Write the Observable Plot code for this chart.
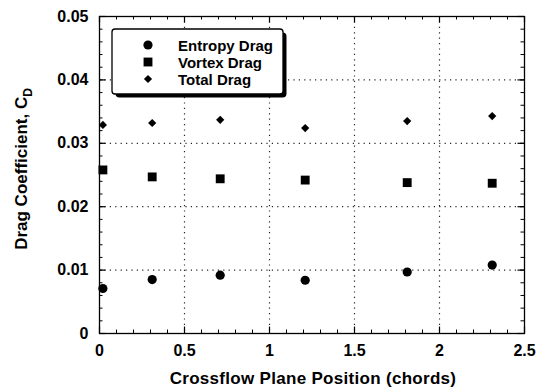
<!DOCTYPE html>
<html>
<head>
<meta charset="utf-8">
<script src="https://cdn.jsdelivr.net/npm/d3@7"></script>
<script src="https://cdn.jsdelivr.net/npm/@observablehq/plot@0.6"></script>
<style>
  html, body { margin: 0; padding: 0; background: #fff; }
  #chart { position: relative; width: 537px; height: 388px; }
  svg { font-family: "Liberation Sans", Arial, sans-serif; }
</style>
</head>
<body>
<div id="chart"></div>
<script>
// ---- data ----
const xPos    = [0.02, 0.31, 0.71, 1.21, 1.81, 2.31];
const entropy = [0.0071, 0.0085, 0.0092, 0.0084, 0.0097, 0.0108];
const vortex  = [0.0258, 0.0247, 0.0244, 0.0242, 0.0238, 0.0237];
const total   = [0.0329, 0.0332, 0.0337, 0.0324, 0.0335, 0.0343];
const seriesNames = ["Entropy Drag", "Vortex Drag", "Total Drag"];
const xTicks = [0, 0.5, 1, 1.5, 2, 2.5];
const yTicks = [0, 0.01, 0.02, 0.03, 0.04, 0.05];
const xGrid = [0.5, 1, 1.5, 2];
const yGrid = [0.01, 0.02, 0.03, 0.04];
const xTitle = "Crossflow Plane Position (chords)";
const yTitle = "Drag Coefficient, C";
const ySub = "D";

// ---- layout ----
const W = 537, H = 388;
const mL = 99, mR = 13, mT = 16, mB = 55;
const pW = W - mL - mR, pH = H - mT - mB;
const xMinor = d3.range(0, 26).map(i => i / 10);
const yMinor = d3.range(0, 26).map(i => i * 0.002);

const rows = xPos.map((x, i) => ({x, entropy: entropy[i], vortex: vortex[i], total: total[i]}));
const symbols = ["circle", "square", "diamond2"];
const radii = [4.6, 5.0, 3.7];

const plot = Plot.plot({
  width: W, height: H,
  marginLeft: mL, marginRight: mR, marginTop: mT, marginBottom: mB,
  x: {domain: [0, 2.5]},
  y: {domain: [0, 0.05]},
  style: {fontFamily: "Liberation Sans, Arial, sans-serif", background: "white"},
  marks: [
    Plot.gridX(xGrid, {stroke: "#000", strokeOpacity: 0.85, strokeWidth: 1.2, strokeDasharray: "1.2,4.2"}),
    Plot.gridY(yGrid, {stroke: "#000", strokeOpacity: 0.85, strokeWidth: 1.2, strokeDasharray: "1.2,4.2"}),
    // inward ticks on all four sides
    Plot.tickX(xMinor, {x: d => d, insetTop: pH - 3.5, stroke: "#000", strokeWidth: 1}),
    Plot.tickX(xTicks, {x: d => d, insetTop: pH - 6.5, stroke: "#000", strokeWidth: 1.2}),
    Plot.tickX(xMinor, {x: d => d, insetBottom: pH - 3.5, stroke: "#000", strokeWidth: 1}),
    Plot.tickX(xTicks, {x: d => d, insetBottom: pH - 6.5, stroke: "#000", strokeWidth: 1.2}),
    Plot.tickY(yMinor, {y: d => d, insetRight: pW - 3.5, stroke: "#000", strokeWidth: 1}),
    Plot.tickY(yTicks, {y: d => d, insetRight: pW - 6.5, stroke: "#000", strokeWidth: 1.2}),
    Plot.tickY(yMinor, {y: d => d, insetLeft: pW - 3.5, stroke: "#000", strokeWidth: 1}),
    Plot.tickY(yTicks, {y: d => d, insetLeft: pW - 6.5, stroke: "#000", strokeWidth: 1.2}),
    Plot.frame({stroke: "#000", strokeWidth: 1.3}),
    Plot.axisX(xTicks, {tickSize: 0, tickPadding: 11, fontSize: 16, fontWeight: "bold", fill: "#000", label: null, tickFormat: d => String(d)}),
    Plot.axisY(yTicks, {tickSize: 0, tickPadding: 11, fontSize: 16, fontWeight: "bold", fill: "#000", label: null, tickFormat: d => String(d)}),
    Plot.dot(rows, {x: "x", y: "entropy", symbol: () => symbols[0], r: radii[0], fill: "#000", stroke: "none"}),
    Plot.dot(rows, {x: "x", y: "vortex", symbol: () => symbols[1], r: radii[1], fill: "#000", stroke: "none"}),
    Plot.dot(rows, {x: "x", y: "total", symbol: () => symbols[2], r: radii[2], fill: "#000", stroke: "none"})
  ]
});
document.getElementById("chart").appendChild(plot);

const svg = d3.select(plot);

// axis titles
svg.append("text")
  .attr("x", 313).attr("y", 384)
  .attr("text-anchor", "middle")
  .attr("font-size", 17).attr("font-weight", "bold").attr("fill", "#000")
  .attr("letter-spacing", 0.3)
  .text(xTitle);

const yt = svg.append("text")
  .attr("transform", `translate(27,169) rotate(-90)`)
  .attr("text-anchor", "middle")
  .attr("font-size", 17).attr("font-weight", "bold").attr("fill", "#000");
yt.append("tspan").text(yTitle);
yt.append("tspan").attr("font-size", 12).attr("dy", 5).text(ySub);

// legend box with drop shadow
const lg = svg.append("g");
const bx = 112, by = 29, bw = 171, bh = 65;
lg.append("rect").attr("x", bx + 3.5).attr("y", by + 3.5).attr("width", bw).attr("height", bh)
  .attr("rx", 4).attr("fill", "#000");
lg.append("rect").attr("x", bx).attr("y", by).attr("width", bw).attr("height", bh)
  .attr("rx", 3).attr("fill", "#fff").attr("stroke", "#000").attr("stroke-width", 1.3);
const symGen = [d3.symbolCircle, d3.symbolSquare, d3.symbolDiamond2];
seriesNames.forEach((name, i) => {
  const yy = by + 16 + i * 17;
  lg.append("path")
    .attr("d", d3.symbol(symGen[i], Math.PI * radii[i] * radii[i])())
    .attr("transform", `translate(${bx + 36},${yy})`)
    .attr("fill", "#000");
  lg.append("text")
    .attr("x", bx + 66).attr("y", yy + 5.5)
    .attr("text-anchor", "start")
    .attr("font-size", 15).attr("font-weight", "bold").attr("fill", "#000")
    .text(name);
});
</script>
</body>
</html>
